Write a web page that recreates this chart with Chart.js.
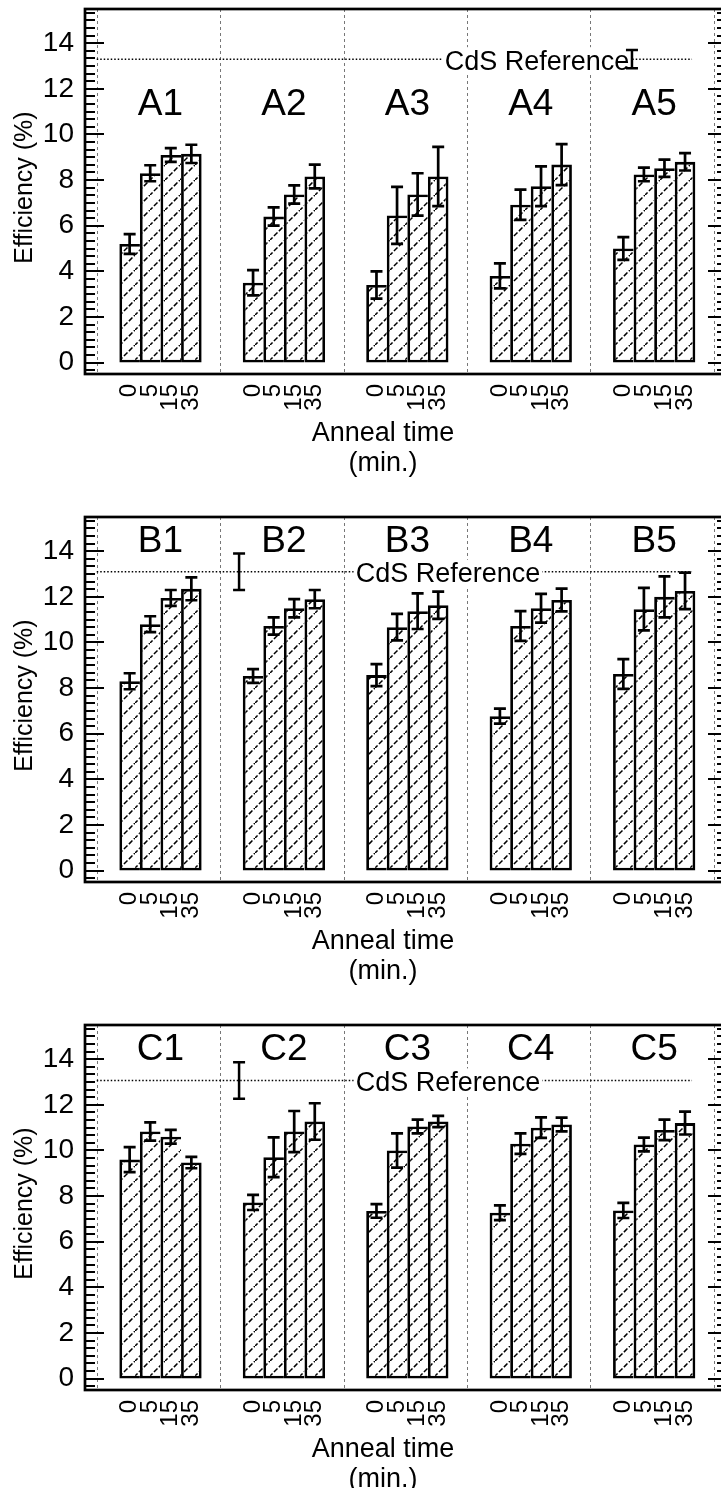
<!DOCTYPE html>
<html>
<head>
<meta charset="utf-8">
<script src="https://cdn.jsdelivr.net/npm/chart.js@4.4.1/dist/chart.umd.min.js"></script>
<style>
html, body { margin: 0; padding: 0; background: #fff; overflow: hidden; width: 721px; height: 1488px; }
canvas { position: absolute; left: 0; }
</style>
</head>
<body>
<canvas id="pA" width="740" height="508" style="top:0px"></canvas>
<canvas id="pB" width="740" height="508" style="top:508px"></canvas>
<canvas id="pC" width="740" height="472" style="top:1016px"></canvas>
<script>
// anneal times (x tick labels) and y ticks
var times = ['0', '5', '15', '35'];
var yTicks = [0, 2, 4, 6, 8, 10, 12, 14];

// panel A
var groupsA = ['A1', 'A2', 'A3', 'A4', 'A5'];
var effA = [[5.2, 8.3, 9.1, 9.15], [3.5, 6.4, 7.37, 8.16], [3.4, 6.45, 7.37, 8.16], [3.8, 6.92, 7.73, 8.68], [5.0, 8.25, 8.52, 8.8]];
var errA = [[0.43, 0.35, 0.3, 0.4], [0.55, 0.4, 0.4, 0.52], [0.6, 1.25, 0.93, 1.3], [0.55, 0.66, 0.87, 0.9], [0.5, 0.3, 0.38, 0.38]];
var refA = 13.3, refErrA = 0.4;

// panel B
var groupsB = ['B1', 'B2', 'B3', 'B4', 'B5'];
var effB = [[8.3, 10.8, 11.95, 12.35], [8.53, 10.72, 11.5, 11.9], [8.57, 10.67, 11.37, 11.63], [6.77, 10.72, 11.5, 11.86], [8.62, 11.46, 12.0, 12.26]];
var errB = [[0.35, 0.35, 0.35, 0.5], [0.3, 0.38, 0.4, 0.4], [0.48, 0.58, 0.78, 0.6], [0.33, 0.65, 0.63, 0.5], [0.65, 0.93, 0.9, 0.8]];
var refB = 13.1, refErrB = 0.8;

// panel C
var groupsC = ['C1', 'C2', 'C3', 'C4', 'C5'];
var effC = [[9.6, 10.83, 10.6, 9.47], [7.72, 9.7, 10.83, 11.27], [7.35, 10.0, 11.05, 11.27], [7.27, 10.3, 11.0, 11.14], [7.37, 10.26, 10.9, 11.2]];
var errC = [[0.55, 0.4, 0.3, 0.25], [0.33, 0.87, 0.9, 0.8], [0.3, 0.75, 0.3, 0.25], [0.32, 0.45, 0.45, 0.3], [0.33, 0.3, 0.45, 0.5]];
var refC = 13.07, refErrC = 0.8;

var refText = 'CdS Reference';
var FONT = "'Liberation Sans', Arial, Helvetica, sans-serif";
Chart.defaults.font.family = FONT;
Chart.defaults.color = '#000';

// 6 slots per group: gap, 4 bars, gap
function slotOf(g, k) { return g * 6 + 1 + k; }

function makeHatch() {
  var c = document.createElement('canvas');
  c.width = 15; c.height = 15;
  var g = c.getContext('2d');
  g.fillStyle = '#fff';
  g.fillRect(0, 0, 15, 15);
  g.strokeStyle = '#000';
  g.lineWidth = 1.5;
  g.setLineDash([5, 2]);
  g.beginPath();
  g.moveTo(-1, 16);
  g.lineTo(16, -1);
  g.stroke();
  return g.createPattern(c, 'repeat');
}
var hatch = makeHatch();

var panelPlugin = {
  id: 'panel',
  beforeDatasetsDraw: function(chart) {
    var o = chart.options.plugins.panel;
    var ctx = chart.ctx, xs = chart.scales.x, ys = chart.scales.y, a = chart.chartArea;
    ctx.save();
    // group dividers
    ctx.strokeStyle = '#777';
    ctx.lineWidth = 1;
    ctx.setLineDash([3, 3]);
    for (var g = 0; g <= o.groups.length; g++) {
      var px = Math.round(xs.getPixelForValue(g * 6 - 0.5)) - 1.5;
      ctx.beginPath();
      ctx.moveTo(px, a.top);
      ctx.lineTo(px, a.bottom);
      ctx.stroke();
    }
    // reference line
    var ry = ys.getPixelForValue(o.ref);
    ctx.strokeStyle = '#000';
    ctx.lineWidth = 1.5;
    ctx.setLineDash([1.5, 2]);
    ctx.beginPath();
    ctx.moveTo(xs.getPixelForValue(-0.6), ry);
    ctx.lineTo(xs.getPixelForValue(28.34), ry);
    ctx.stroke();
    ctx.setLineDash([]);
    // reference label
    ctx.font = '27px ' + FONT;
    var tx = xs.getPixelForValue(o.refLabelX);
    var tw = ctx.measureText(refText).width;
    ctx.fillStyle = '#fff';
    ctx.fillRect(tx - tw / 2 - 2, ry - 12, tw + 4, 27);
    ctx.fillStyle = '#000';
    ctx.textAlign = 'center';
    ctx.textBaseline = 'middle';
    ctx.fillText(refText, tx, ry + 3);
    // reference error bar
    var ex = xs.getPixelForValue(o.refErrX);
    var et = ys.getPixelForValue(o.ref + o.refErr), eb = ys.getPixelForValue(o.ref - o.refErr);
    ctx.lineWidth = 2.5;
    ctx.beginPath();
    ctx.moveTo(ex, et); ctx.lineTo(ex, eb);
    ctx.moveTo(ex - 6, et); ctx.lineTo(ex + 6, et);
    ctx.moveTo(ex - 6, eb); ctx.lineTo(ex + 6, eb);
    ctx.stroke();
    // group names
    ctx.font = '37px ' + FONT;
    for (var g2 = 0; g2 < o.groups.length; g2++) {
      ctx.fillText(o.groups[g2], xs.getPixelForValue(g2 * 6 + 2.5), ys.getPixelForValue(o.labelY));
    }
    ctx.restore();
  },
  afterDatasetsDraw: function(chart) {
    var o = chart.options.plugins.panel;
    var ctx = chart.ctx, xs = chart.scales.x, ys = chart.scales.y, a = chart.chartArea;
    ctx.save();
    ctx.strokeStyle = '#000';
    ctx.lineWidth = 2.7;
    // error bars
    var pts = chart.data.datasets[0].data;
    for (var i = 0; i < pts.length; i++) {
      var px = xs.getPixelForValue(pts[i].x);
      var t = ys.getPixelForValue(pts[i].y + o.err[i]);
      var b = ys.getPixelForValue(pts[i].y - o.err[i]);
      ctx.beginPath();
      ctx.moveTo(px, t); ctx.lineTo(px, b);
      ctx.moveTo(px - 6, t); ctx.lineTo(px + 6, t);
      ctx.moveTo(px - 6, b); ctx.lineTo(px + 6, b);
      ctx.stroke();
    }
    // frame
    ctx.lineWidth = 2.7;
    ctx.strokeRect(a.left, a.top, a.right - a.left, a.bottom - a.top);
    // inward ticks left and right
    ctx.lineWidth = 2;
    for (var k = -1; k <= 46; k++) {
      var v = k * 2 / 6;
      if (v < ys.min || v > ys.max) continue;
      var len = (k % 6 === 0) ? 19 : 10;
      var py = Math.round(ys.getPixelForValue(v));
      ctx.beginPath();
      ctx.moveTo(a.left, py); ctx.lineTo(a.left + len, py);
      ctx.moveTo(a.right, py); ctx.lineTo(a.right - len, py);
      ctx.stroke();
    }
    // axis titles
    ctx.fillStyle = '#000';
    ctx.textAlign = 'center';
    ctx.textBaseline = 'middle';
    ctx.font = '27px ' + FONT;
    ctx.fillText('Anneal time', a.left + 298, a.bottom + 60);
    ctx.fillText('(min.)', a.left + 298, a.bottom + 90);
    ctx.save();
    ctx.translate(25, (a.top + a.bottom) / 2 - 4);
    ctx.rotate(-Math.PI / 2);
    ctx.font = '25px ' + FONT;
    ctx.fillText('Efficiency (%)', 0, 0);
    ctx.restore();
    ctx.restore();
  }
};

function noPad(s) {
  s.paddingTop = 0; s.paddingBottom = 0; s.paddingLeft = 0; s.paddingRight = 0;
}

function makePanel(id, H, groups, eff, err, ref, refErr, refLabelX, refErrX, labelY) {
  var pts = [], errs = [], slotLabels = {};
  for (var g = 0; g < groups.length; g++) {
    for (var k = 0; k < times.length; k++) {
      pts.push({ x: slotOf(g, k), y: eff[g][k] });
      errs.push(err[g][k]);
      slotLabels[slotOf(g, k)] = times[k];
    }
  }
  return new Chart(document.getElementById(id), {
    type: 'bar',
    data: {
      datasets: [{
        data: pts,
        backgroundColor: hatch,
        borderColor: '#000',
        borderWidth: function(c) {
          var k = c.dataIndex % 4;
          return { left: 2.8, right: k === 3 ? 2.8 : 0, top: 2.8, bottom: 2.8 };
        },
        borderSkipped: false,
        inflateAmount: 0,
        barPercentage: 1,
        categoryPercentage: 1
      }]
    },
    options: {
      responsive: false,
      animation: false,
      events: [],
      layout: { padding: { top: 9, right: 13, left: 0, bottom: 0 } },
      plugins: {
        legend: { display: false },
        tooltip: { enabled: false },
        panel: { groups: groups, err: errs, ref: ref, refErr: refErr, refLabelX: refLabelX, refErrX: refErrX, labelY: labelY }
      },
      scales: {
        x: {
          type: 'linear',
          min: -1.17,
          max: 30.04,
          offset: false,
          grid: { display: false, drawTicks: false },
          border: { display: false },
          afterBuildTicks: function(s) {
            s.ticks = Object.keys(slotLabels).map(function(v) { return { value: Number(v) }; });
          },
          afterFit: function(s) { s.height = H - 374; noPad(s); },
          ticks: {
            autoSkip: false,
            minRotation: 90,
            maxRotation: 90,
            padding: 10,
            font: { size: 24 },
            color: '#000',
            callback: function(v) { return slotLabels[v]; }
          }
        },
        y: {
          min: -0.5,
          max: 15.5,
          grid: { display: false, drawTicks: false },
          border: { display: false },
          afterBuildTicks: function(s) {
            s.ticks = yTicks.map(function(v) { return { value: v }; });
          },
          afterFit: function(s) { s.width = 85; noPad(s); },
          ticks: { padding: 11, font: { size: 28 }, color: '#000' }
        }
      }
    },
    plugins: [panelPlugin]
  });
}

makePanel('pA', 508, groupsA, effA, errA, refA, refErrA, 20.8, 25.42, 11.3);
makePanel('pB', 508, groupsB, effB, errB, refB, refErrB, 16.48, 6.32, 14.4);
makePanel('pC', 472, groupsC, effC, errC, refC, refErrC, 16.48, 6.32, 14.4);
</script>
</body>
</html>
